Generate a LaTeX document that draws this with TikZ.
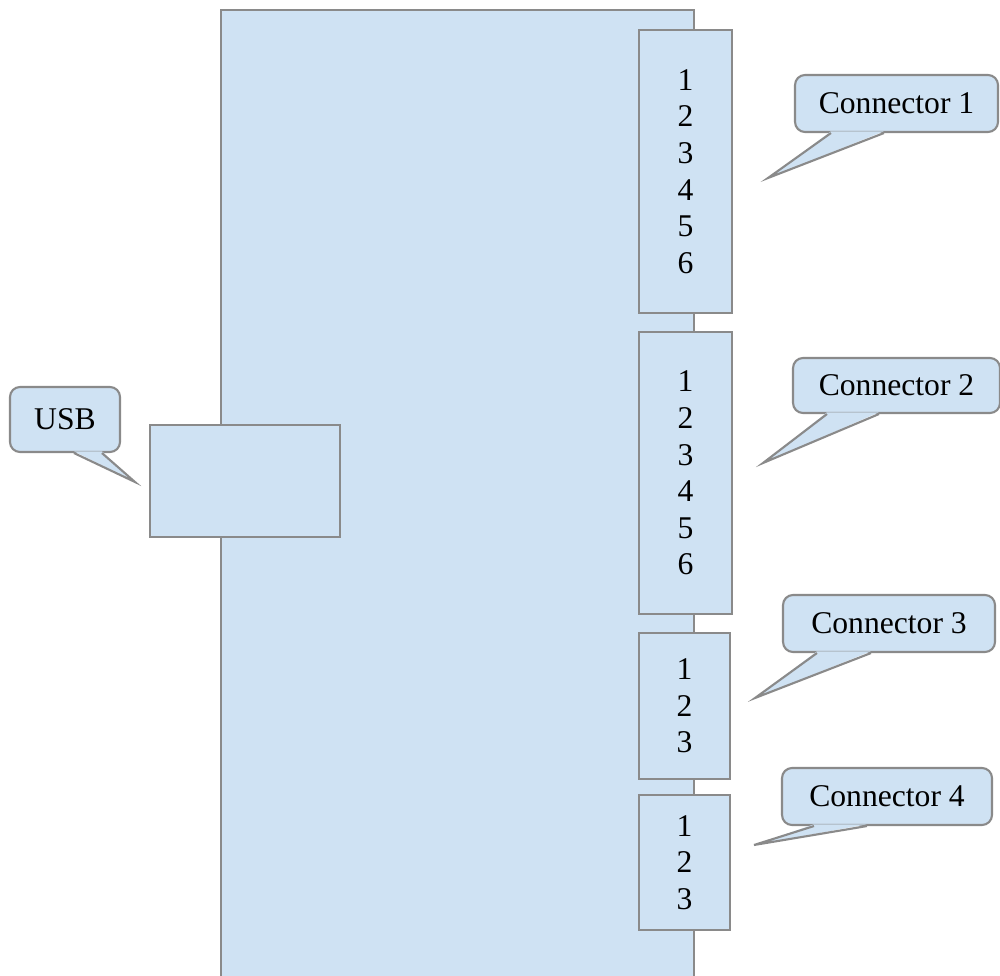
\documentclass[tikz,border=0pt]{standalone}
\usepackage{fontspec}
\setmainfont{Liberation Serif}
\usepackage{tikz}
\definecolor{boardblue}{HTML}{CFE2F3}
\definecolor{edgegray}{HTML}{8A8A8A}
\tikzset{
	part/.style 2 args={draw=edgegray,fill=boardblue,line width=1.2pt,inner sep=0pt,minimum width=#1,minimum height=#2,align=center,font=\fontsize{18}{20.8}\selectfont},
	bubble/.style 2 args={part={#1}{#2},rounded corners=0.2cm},
	tipfill/.style={fill=boardblue},
	tipline/.style={draw=edgegray,line width=1.2pt,line join=miter}
}
\begin{document}
\begin{tikzpicture}[x={(0.02cm,0)},y={(0,-0.02cm)}]
	\useasboundingbox (0,0) rectangle (1000,976);
	\clip (0,0) rectangle (1000,976);
	\node [part={9.46cm}{19.8cm}] (board) at (457.5,505) {};

	\node [part={1.86cm}{5.66cm}] (con1) at (685.5,171.5) {1\\2\\3\\4\\5\\6};
	\node [part={1.86cm}{5.64cm}] (con2) at (685.5,473) {1\\2\\3\\4\\5\\6};
	\node [part={1.82cm}{2.92cm}] (con3) at (684.5,706) {1\\2\\3};
	\node [part={1.82cm}{2.7cm}] (con4) at (684.5,862.5) {1\\2\\3};
	\node [part={3.8cm}{2.24cm}] (usb) at (245,481) {};

	\node [bubble={2.2cm}{1.3cm}] (usbnote) at (65,419.5) {USB};
	\coordinate (usbtip) at (135,482);
	\fill [tipfill] ([xshift=1.3cm,yshift=1pt]usbnote.south west) -- (usbtip) -- ([xshift=1.86cm,yshift=1pt]usbnote.south west) -- cycle;
	\draw [tipline] ([xshift=1.3cm]usbnote.south west) -- (usbtip) -- ([xshift=1.86cm]usbnote.south west);

	\node [bubble={4.06cm}{1.14cm}] (note1) at (896.5,103.5) {Connector 1};
	\coordinate (tip1) at (768,178);
	\fill [tipfill] ([xshift=0.74cm,yshift=1pt]note1.south west) -- (tip1) -- ([xshift=1.8cm,yshift=1pt]note1.south west) -- cycle;
	\draw [tipline] ([xshift=0.74cm]note1.south west) -- (tip1) -- ([xshift=1.8cm]note1.south west);

	\node [bubble={4.14cm}{1.1cm}] (note2) at (896.5,385.5) {Connector 2};
	\coordinate (tip2) at (763,463);
	\fill [tipfill] ([xshift=0.7cm,yshift=1pt]note2.south west) -- (tip2) -- ([xshift=1.74cm,yshift=1pt]note2.south west) -- cycle;
	\draw [tipline] ([xshift=0.7cm]note2.south west) -- (tip2) -- ([xshift=1.74cm]note2.south west);

	\node [bubble={4.24cm}{1.14cm}] (note3) at (889,623.5) {Connector 3};
	\coordinate (tip3) at (755,698);
	\fill [tipfill] ([xshift=0.7cm,yshift=1pt]note3.south west) -- (tip3) -- ([xshift=1.78cm,yshift=1pt]note3.south west) -- cycle;
	\draw [tipline] ([xshift=0.7cm]note3.south west) -- (tip3) -- ([xshift=1.78cm]note3.south west);

	\node [bubble={4.2cm}{1.14cm}] (note4) at (887,796.5) {Connector 4};
	\coordinate (tip4) at (754,845);
	\fill [tipfill] ([xshift=0.66cm,yshift=1pt]note4.south west) -- (tip4) -- ([xshift=1.72cm,yshift=1pt]note4.south west) -- cycle;
	\draw [tipline] ([xshift=0.66cm]note4.south west) -- (tip4) -- ([xshift=1.72cm]note4.south west);
\end{tikzpicture}
\end{document}
